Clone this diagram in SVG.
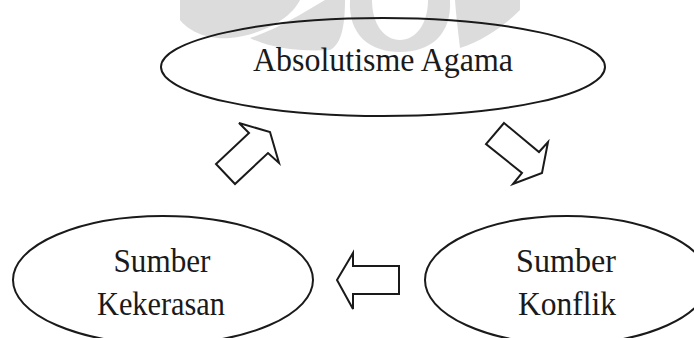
<svg xmlns="http://www.w3.org/2000/svg" width="694" height="338" viewBox="0 0 694 338">
<style>
.node{fill:none;stroke:#1a1a1a;stroke-width:2}
.arrow{fill:#fff;stroke:#1a1a1a;stroke-width:2;stroke-linejoin:miter}
.lbl{font-family:"Liberation Serif","Times New Roman",serif;font-size:33px;fill:#1a1a1a;text-anchor:middle}
.wm{fill:#dcdcdc}
</style>
<rect width="694" height="338" fill="#fff"/>
<g id="watermark">
<path class="wm" d="M180,0 L300,0 C290,20 260,35 230,38 C205,40 188,30 180,20 Z"/>
<path class="wm" d="M250,38 C275,30 300,15 325,0 L345,0 C345,30 340,45 330,50 C300,52 270,48 250,38 Z"/>
<path class="wm" d="M350,0 L372,0 C372,25 385,40 400,40 C415,40 428,25 428,0 L450,0 C452,35 430,52 400,52 C370,52 348,35 350,0 Z"/>
<path class="wm" d="M455,0 L520,0 L520,10 C505,25 485,40 460,48 C458,30 456,15 455,0 Z"/>
</g>
<g id="node-absolutisme">
<ellipse class="node" cx="383" cy="67" rx="222" ry="49"/>
<text class="lbl" x="383" y="71" textLength="260" lengthAdjust="spacingAndGlyphs">Absolutisme Agama</text>
</g>
<g id="node-kekerasan">
<ellipse class="node" cx="163" cy="280" rx="150" ry="64"/>
<text class="lbl" x="162" y="272" textLength="97" lengthAdjust="spacingAndGlyphs">Sumber</text>
<text class="lbl" x="161" y="315" textLength="128" lengthAdjust="spacingAndGlyphs">Kekerasan</text>
</g>
<g id="node-konflik">
<ellipse class="node" cx="567" cy="280" rx="142" ry="64"/>
<text class="lbl" x="566" y="272" textLength="100" lengthAdjust="spacingAndGlyphs">Sumber</text>
<text class="lbl" x="567" y="315" textLength="98" lengthAdjust="spacingAndGlyphs">Konflik</text>
</g>
<g id="connectors">
<polygon class="arrow" points="239,123 270,132 279,163 268,153 235,184 216,164 249,133"/>
<polygon class="arrow" points="504,123 539,152 548,142 542,173 513,184 522,173 486,144"/>
<polygon class="arrow" points="337,280 353,253 353,266 399,266 399,294 353,294 353,309"/>
</g>
</svg>
